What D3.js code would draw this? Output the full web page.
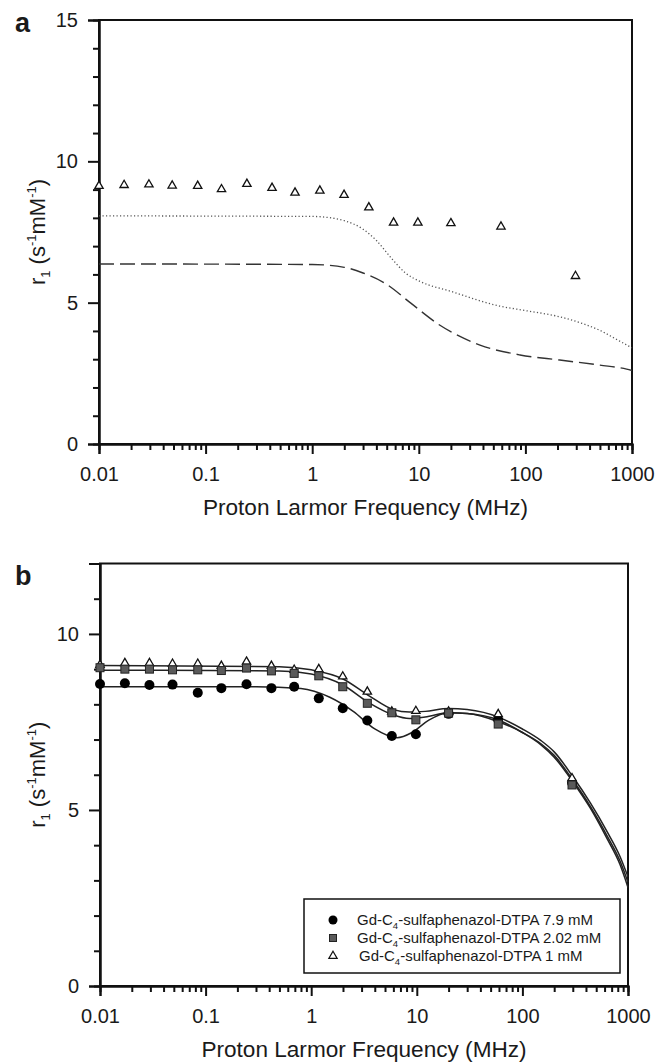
<!DOCTYPE html>
<html>
<head>
<meta charset="utf-8">
<script src="https://cdn.jsdelivr.net/npm/d3@7"></script>
<style>
  body { margin: 0; background: #fff; }
  text { font-family: "Liberation Sans", Arial, sans-serif; fill: #1a1a1a; }
</style>
</head>
<body>
<div id="wrapper"></div>
<script>
// data (frequencies in MHz, r1 in s-1 mM-1)

const freqs = [0.01, 0.0172, 0.0294, 0.0486, 0.0843, 0.141, 0.244, 0.42, 0.69, 1.18, 1.99, 3.4, 5.8, 9.8, 20, 59, 295];

// panel a
const triA = [9.13, 9.16, 9.18, 9.14, 9.13, 9.01, 9.20, 9.06, 8.89, 8.96, 8.81, 8.37, 7.83, 7.83, 7.81, 7.69, 5.94];
const dottedA = [[0.01, 8.07], [1, 8.05], [1.5, 8.0], [2, 7.9], [3, 7.6], [4, 7.2], [5.6, 6.55], [7.5, 6.05], [10.3, 5.75], [20, 5.4], [57, 4.88], [100, 4.72], [210, 4.5], [350, 4.25], [500, 4.02], [700, 3.72], [1000, 3.4]];
const dashedA = [[0.01, 6.37], [1, 6.35], [2, 6.25], [3, 6.05], [5, 5.65], [8.3, 5.0], [15.8, 4.2], [37.5, 3.5], [89, 3.15], [210, 2.97], [500, 2.79], [890, 2.65], [1000, 2.6]];

// panel b
const circlesB = [8.58, 8.60, 8.55, 8.56, 8.33, 8.46, 8.57, 8.46, 8.50, 8.17, 7.89, 7.54, 7.10, 7.15, 7.73, 7.56, 5.77];
const squaresB = [9.04, 9.00, 9.00, 8.98, 8.98, 8.96, 9.03, 8.95, 8.88, 8.81, 8.50, 8.03, 7.76, 7.56, 7.75, 7.44, 5.71];
const trianglesB = [9.12, 9.17, 9.17, 9.15, 9.15, 9.09, 9.21, 9.09, 8.98, 9.00, 8.79, 8.36, 7.79, 7.81, 7.79, 7.72, 5.90];
const fitCircles = [[0.01, 8.5], [0.3, 8.5], [0.8, 8.45], [1.5, 8.2], [2.5, 7.8], [4, 7.3], [6.5, 7.05], [9, 7.2], [13, 7.55], [20, 7.76], [30, 7.74], [60, 7.55], [100, 7.2], [150, 6.85], [200, 6.5], [300, 5.8], [440, 5.05], [630, 4.2], [840, 3.45], [1000, 2.8]];
const fitSquares = [[0.01, 8.97], [0.5, 8.95], [1, 8.86], [2, 8.55], [3.5, 8.05], [6, 7.7], [8.5, 7.6], [12, 7.64], [20, 7.76], [30, 7.74], [60, 7.5], [100, 7.2], [150, 6.88], [200, 6.55], [300, 5.85], [440, 5.1], [630, 4.28], [840, 3.55], [1000, 2.95]];
const fitTriangles = [[0.01, 9.1], [0.5, 9.07], [1, 8.98], [2, 8.72], [3.5, 8.25], [6, 7.85], [8.5, 7.78], [12, 7.8], [20, 7.88], [30, 7.85], [60, 7.63], [100, 7.3], [150, 6.97], [200, 6.65], [300, 5.95], [440, 5.2], [630, 4.4], [840, 3.68], [1000, 3.1]];

const legendLabels = ["7.9 mM", "2.02 mM", "1 mM"];

const xMajor = [0.01, 0.1, 1, 10, 100, 1000];
const xTickLabels = ["0.01", "0.1", "1", "10", "100", "1000"];

// dimensions

const width = 656;
const height = 1063;

const svg = d3.select("#wrapper")
  .append("svg")
    .attr("width", width)
    .attr("height", height);

const xMinor = [];
for (let e = -2; e < 3; e++) {
  for (let m = 2; m <= 9; m++) xMinor.push(m * Math.pow(10, e));
}

function drawPanel(p) {
  const x = d3.scaleLog().domain([0.01, 1000]).range([p.left, p.right]);
  const y = d3.scaleLinear().domain([0, p.yMax]).range([p.bottom, p.top]);

  const g = svg.append("g");

  // frame
  g.append("rect")
    .attr("x", p.left)
    .attr("y", p.top)
    .attr("width", p.right - p.left)
    .attr("height", p.bottom - p.top)
    .attr("fill", "none")
    .attr("stroke", "#111")
    .attr("stroke-width", 2);

  // axes
  const yMinorVals = d3.range(0, p.yMax + 1).filter(v => v % 5 !== 0);
  const yMajorVals = d3.range(0, p.yMax + 1, 5);

  const yMinorAxis = g.append("g")
    .attr("transform", `translate(${p.left},0)`)
    .call(d3.axisLeft(y).tickValues(yMinorVals).tickSize(6).tickFormat(""));
  const yAxis = g.append("g")
    .attr("transform", `translate(${p.left},0)`)
    .call(d3.axisLeft(y).tickValues(yMajorVals).tickSize(11).tickPadding(10).tickFormat(d3.format("d")));

  const xMinorAxis = g.append("g")
    .attr("transform", `translate(0,${p.bottom})`)
    .call(d3.axisBottom(x).tickValues(xMinor).tickSize(6).tickFormat(""));
  const xAxis = g.append("g")
    .attr("transform", `translate(0,${p.bottom})`)
    .call(d3.axisBottom(x).tickValues(xMajor).tickSize(10).tickPadding(13).tickFormat((d, i) => xTickLabels[i]));

  [yMinorAxis, yAxis, xMinorAxis, xAxis].forEach(a => {
    a.select(".domain").attr("stroke", "#111").attr("stroke-width", 2);
    a.selectAll(".tick line").attr("stroke", "#111").attr("stroke-width", 2);
    a.selectAll("text").style("font-size", "20px").attr("fill", "#1a1a1a");
  });

  // titles
  g.append("text")
    .attr("x", (p.left + p.right) / 2)
    .attr("y", p.bottom + 71)
    .attr("text-anchor", "middle")
    .style("font-size", "22.6px")
    .text("Proton Larmor Frequency (MHz)");

  const yTitle = g.append("text")
    .attr("transform", `translate(45,${(p.top + p.bottom) / 2}) rotate(-90)`)
    .attr("text-anchor", "middle")
    .style("font-size", "22px");
  yTitle.append("tspan").text("r");
  yTitle.append("tspan").attr("dy", 5).style("font-size", "13px").text("1");
  yTitle.append("tspan").attr("dy", -5).text(" (s");
  yTitle.append("tspan").attr("dy", -9).style("font-size", "13px").text("-1");
  yTitle.append("tspan").attr("dy", 9).text("mM");
  yTitle.append("tspan").attr("dy", -9).style("font-size", "13px").text("-1");
  yTitle.append("tspan").attr("dy", 9).text(")");

  g.append("text")
    .attr("x", 15)
    .attr("y", p.letterY)
    .style("font-size", "27px")
    .style("font-weight", "bold")
    .text(p.letter);

  return { g, x, y };
}

const line = (x, y) => d3.line()
  .x(d => x(d[0]))
  .y(d => y(d[1]))
  .curve(d3.curveMonotoneX);

const triSymbol = d3.symbol().type(d3.symbolTriangle).size(30);

// panel a

const a = drawPanel({ left: 99, right: 632, top: 20, bottom: 444, yMax: 15, letter: "a", letterY: 32 });

a.g.append("path")
  .attr("d", line(a.x, a.y)(dottedA))
  .attr("fill", "none")
  .attr("stroke", "#555")
  .attr("stroke-width", 1.3)
  .attr("stroke-dasharray", "1.2,2.3");

a.g.append("path")
  .attr("d", line(a.x, a.y)(dashedA))
  .attr("fill", "none")
  .attr("stroke", "#333")
  .attr("stroke-width", 1.4)
  .attr("stroke-dasharray", "15,6");

a.g.selectAll(".triA")
  .data(triA)
  .join("path")
    .attr("transform", (d, i) => `translate(${a.x(freqs[i])},${a.y(d)})`)
    .attr("d", triSymbol)
    .attr("fill", "#fff")
    .attr("stroke", "#111")
    .attr("stroke-width", 1.3);

// panel b

const b = drawPanel({ left: 100, right: 628, top: 563.5, bottom: 986, yMax: 12, letter: "b", letterY: 585 });

[fitCircles, fitSquares, fitTriangles].forEach(fit => {
  b.g.append("path")
    .attr("d", line(b.x, b.y)(fit))
    .attr("fill", "none")
    .attr("stroke", "#222")
    .attr("stroke-width", 1.5);
});

b.g.selectAll(".circB")
  .data(circlesB)
  .join("circle")
    .attr("cx", (d, i) => b.x(freqs[i]))
    .attr("cy", d => b.y(d))
    .attr("r", 5)
    .attr("fill", "#000");

b.g.selectAll(".triB")
  .data(trianglesB)
  .join("path")
    .attr("transform", (d, i) => `translate(${b.x(freqs[i])},${b.y(d)})`)
    .attr("d", triSymbol)
    .attr("fill", "#fff")
    .attr("stroke", "#111")
    .attr("stroke-width", 1.3);

b.g.selectAll(".sqB")
  .data(squaresB)
  .join("rect")
    .attr("x", (d, i) => b.x(freqs[i]) - 4)
    .attr("y", d => b.y(d) - 4)
    .attr("width", 8)
    .attr("height", 8)
    .attr("fill", "#5a5a5a")
    .attr("stroke", "#222")
    .attr("stroke-width", 1);

// legend

const legend = b.g.append("g");
legend.append("rect")
  .attr("x", 304)
  .attr("y", 899)
  .attr("width", 316)
  .attr("height", 74)
  .attr("fill", "#fff")
  .attr("stroke", "#111")
  .attr("stroke-width", 1.5);

const rowY = [920, 938, 956];
legend.append("circle").attr("cx", 333).attr("cy", rowY[0]).attr("r", 4.5).attr("fill", "#000");
legend.append("rect").attr("x", 329.5).attr("y", rowY[1] - 3.5).attr("width", 7).attr("height", 7)
  .attr("fill", "#5a5a5a").attr("stroke", "#222");
legend.append("path").attr("transform", `translate(333,${rowY[2]})`).attr("d", triSymbol)
  .attr("fill", "#fff").attr("stroke", "#111").attr("stroke-width", 1.2);

legendLabels.forEach((lab, i) => {
  const t = legend.append("text")
    .attr("x", i === 2 ? 359 : 357)
    .attr("y", rowY[i] + 5)
    .style("font-size", "15px");
  t.append("tspan").text("Gd-C");
  t.append("tspan").attr("dy", 4).style("font-size", "9.5px").text("4");
  t.append("tspan").attr("dy", -4).text(`-sulfaphenazol-DTPA ${lab}`);
});
</script>
</body>
</html>
